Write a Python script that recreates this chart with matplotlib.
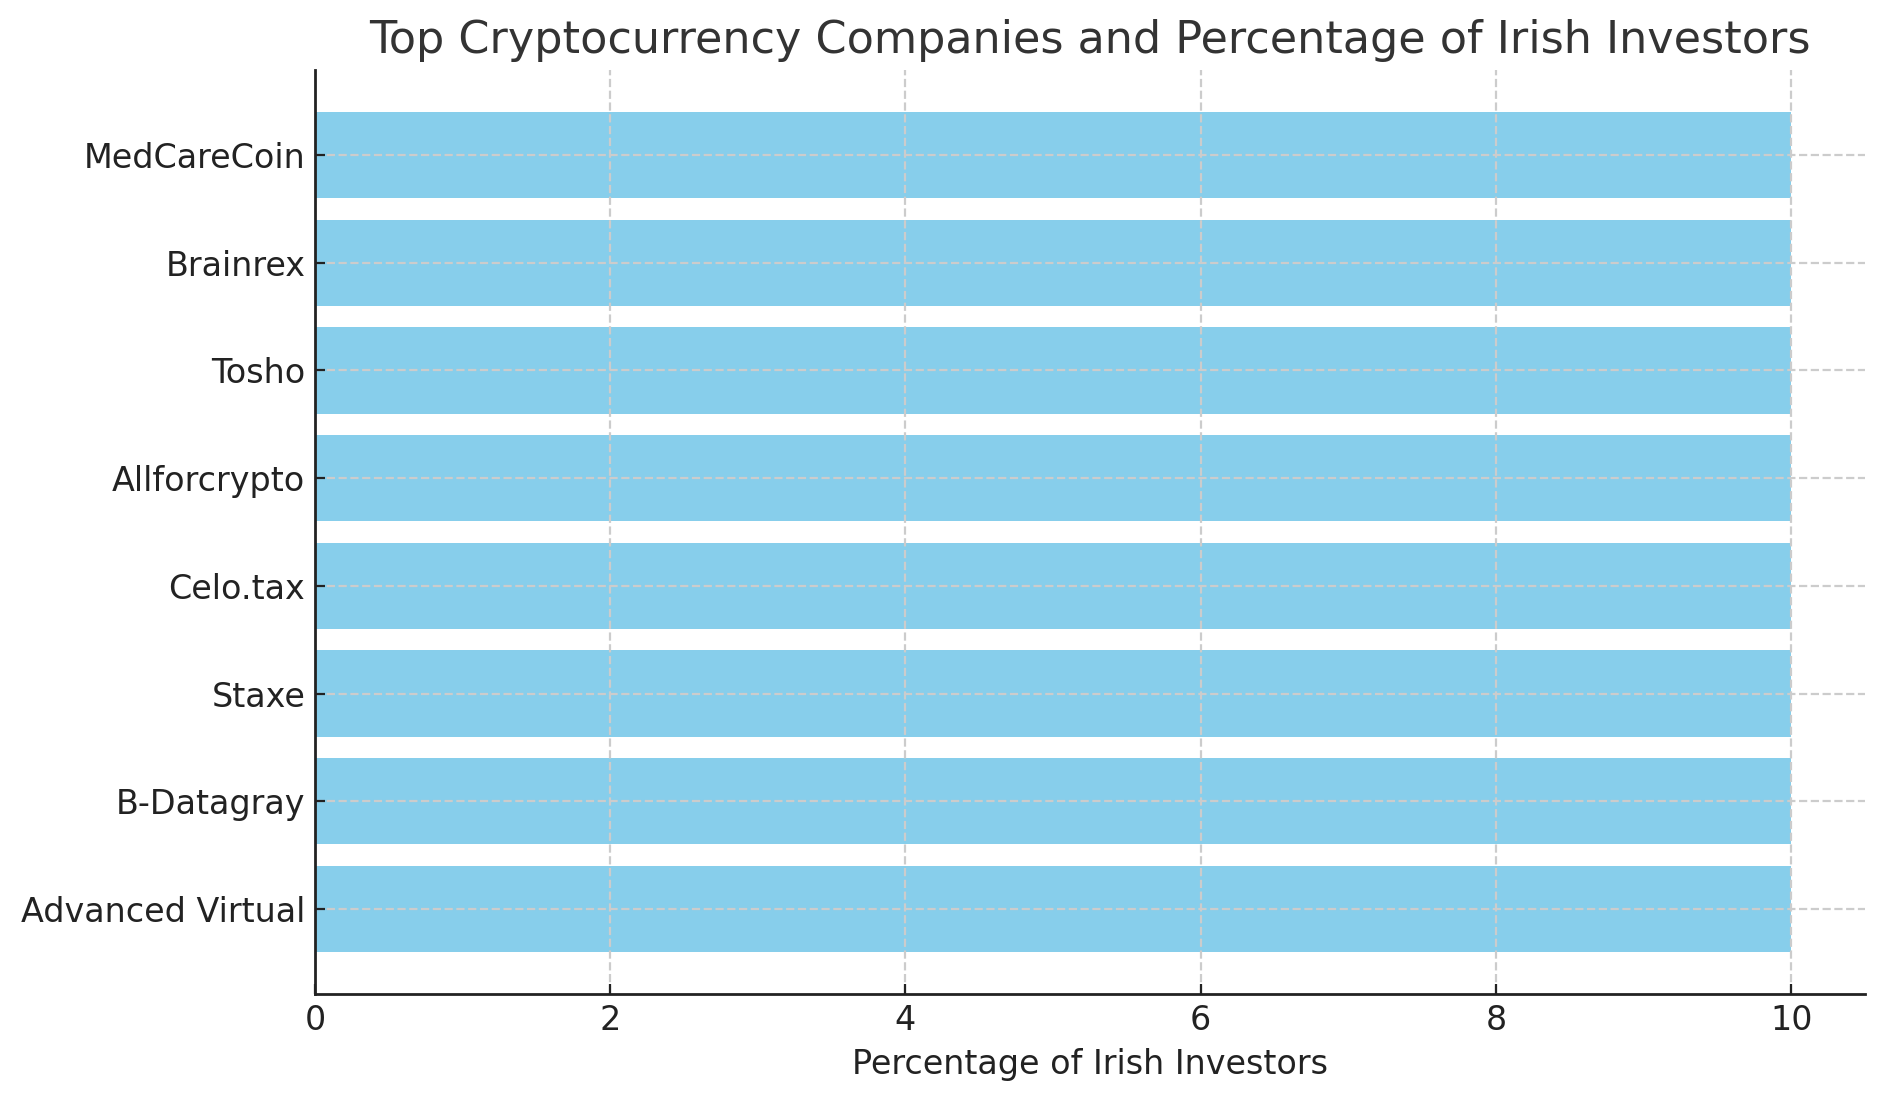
import matplotlib
matplotlib.use("Agg")
import matplotlib.pyplot as plt

companies = ["Advanced Virtual", "B-Datagray", "Staxe", "Celo.tax",
             "Allforcrypto", "Tosho", "Brainrex", "MedCareCoin"]
percentages = [10, 10, 10, 10, 10, 10, 10, 10]

fig = plt.figure(figsize=(9.42, 5.505), dpi=200)
ax = fig.add_axes([315/1884, 1 - 994/1101, (1865-315)/1884, (994-70)/1101])

ax.barh(companies, percentages, color="skyblue", height=0.8)

ax.set_title("Top Cryptocurrency Companies and Percentage of Irish Investors",
             fontsize=16, color="#333333")
ax.set_xlabel("Percentage of Irish Investors", fontsize=12, color="#222222")
ax.tick_params(axis="both", direction="in", labelsize=12, colors="#222222")
ax.grid(True, linestyle="--", color="#cccccc", linewidth=0.8)
for s in ["top", "right"]:
    ax.spines[s].set_visible(False)
for s in ["left", "bottom"]:
    ax.spines[s].set_color("#222222")
    ax.spines[s].set_linewidth(1.0)

fig.savefig("out.png", dpi=200)
